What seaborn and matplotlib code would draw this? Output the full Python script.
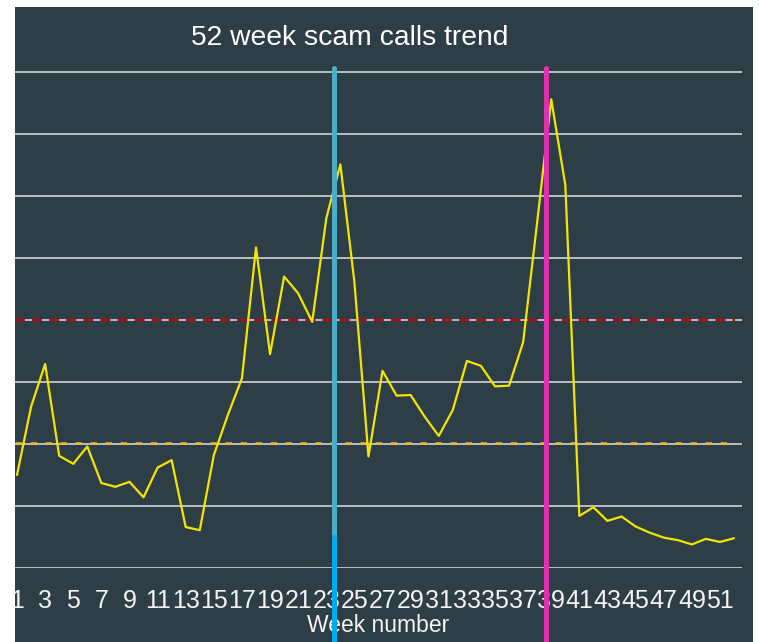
import matplotlib
matplotlib.use("Agg")
import matplotlib.pyplot as plt
from matplotlib.patches import Rectangle
from matplotlib.transforms import ScaledTranslation
import seaborn as sns
import pandas as pd

# ---- data ----
weeks = list(range(1, 53))
calls = [15.0, 26.0, 32.9, 18.1, 16.8, 19.6, 13.7, 13.1, 13.9, 11.4,
         16.2, 17.4, 6.6, 6.1, 18.2, 24.7, 30.6, 51.7, 34.5, 47.0,
         44.3, 39.7, 56.4, 65.1, 46.1, 18.0, 31.8, 27.8, 27.9, 24.4,
         21.3, 25.5, 33.4, 32.6, 29.3, 29.4, 36.4, 55.8, 75.6, 61.8,
         8.4, 9.8, 7.6, 8.3, 6.7, 5.7, 4.9, 4.5, 3.8, 4.7,
         4.2, 4.8]
tick_weeks = list(range(1, 52, 2))
tick_labels = [str(w) for w in tick_weeks]
grid_values = [0, 10, 20, 30, 40, 50, 60, 70, 80]
upper_threshold = 40
lower_threshold = 20
event_weeks = [23.55, 38.65]
event_colors = ["#4aaec8", "#e030b0"]
title = "52 week scam calls trend"
xlabel = "Week number"

df = pd.DataFrame({"week": weeks, "calls": calls})

sns.set_style("white")
plt.rcParams["font.family"] = ["Liberation Sans", "DejaVu Sans"]

W, H = 759, 642
fig = plt.figure(figsize=(W / 100, H / 100), dpi=100, facecolor="white")
panel = "#2d3e47"
fig.patches.append(Rectangle((15 / W, 0), (753 - 15) / W, (H - 7) / H,
                             transform=fig.transFigure, facecolor=panel,
                             linewidth=0, zorder=-10))

ax_top_px, ax_bot_px = 68, 568
ax = fig.add_axes([15 / W, (H - ax_bot_px) / H, (742 - 15) / W,
                   (ax_bot_px - ax_top_px) / H])
ax.set_facecolor("none")
ax.patch.set_alpha(0)
for s in ax.spines.values():
    s.set_visible(False)

# gridlines
for g in grid_values:
    ax.axhline(g, color="#c3c8ca", lw=1.3, zorder=1)
# thresholds
ax.axhline(upper_threshold, color="#cc0000", lw=1.5, linestyle=(0, (4.8, 3.4)),
           xmax=0.99, zorder=2)
low = ax.axhline(lower_threshold, color="#f2b630", lw=1.8,
                 linestyle=(0, (2.6, 3.4)), xmax=0.99, zorder=2)
low.set_transform(low.get_transform() +
                  ScaledTranslation(0, 1.2 / 100, fig.dpi_scale_trans))

sns.lineplot(data=df, x="week", y="calls", ax=ax, color="#f2e600", lw=1.6,
             zorder=3)

# event markers
ax.axvline(event_weeks[0], ymin=-0.16, ymax=1, color=event_colors[0], lw=3.6,
           clip_on=False, zorder=4)
ax.axvline(event_weeks[0], ymin=-0.16, ymax=0.062, color="#00aaee", lw=3.6,
           clip_on=False, zorder=4)
ax.axvline(event_weeks[1], ymin=-0.16, ymax=1, color=event_colors[1], lw=3.6,
           clip_on=False, zorder=4)

sp = (734 - 17) / 51
ax.set_xlim(1 - 2 / sp, 52 + 8 / sp)
ax.set_ylim(0, 80 * (ax_bot_px - ax_top_px) / (ax_bot_px - 72))

ax.set_xticks(tick_weeks)
ax.set_xticklabels(tick_labels)
ax.set_yticks([])
ax.tick_params(axis="x", length=0, pad=15, labelsize=18, labelcolor="#f4f4f4")
ax.set_xlabel(xlabel, fontsize=16.5, color="#f4f4f4", labelpad=1)
ax.set_ylabel("")

fig.text(350 / W, 1 - 38 / H, title, ha="center", va="center", fontsize=20.3,
         color="white")

fig.savefig("out.png", dpi=100, facecolor="white")
